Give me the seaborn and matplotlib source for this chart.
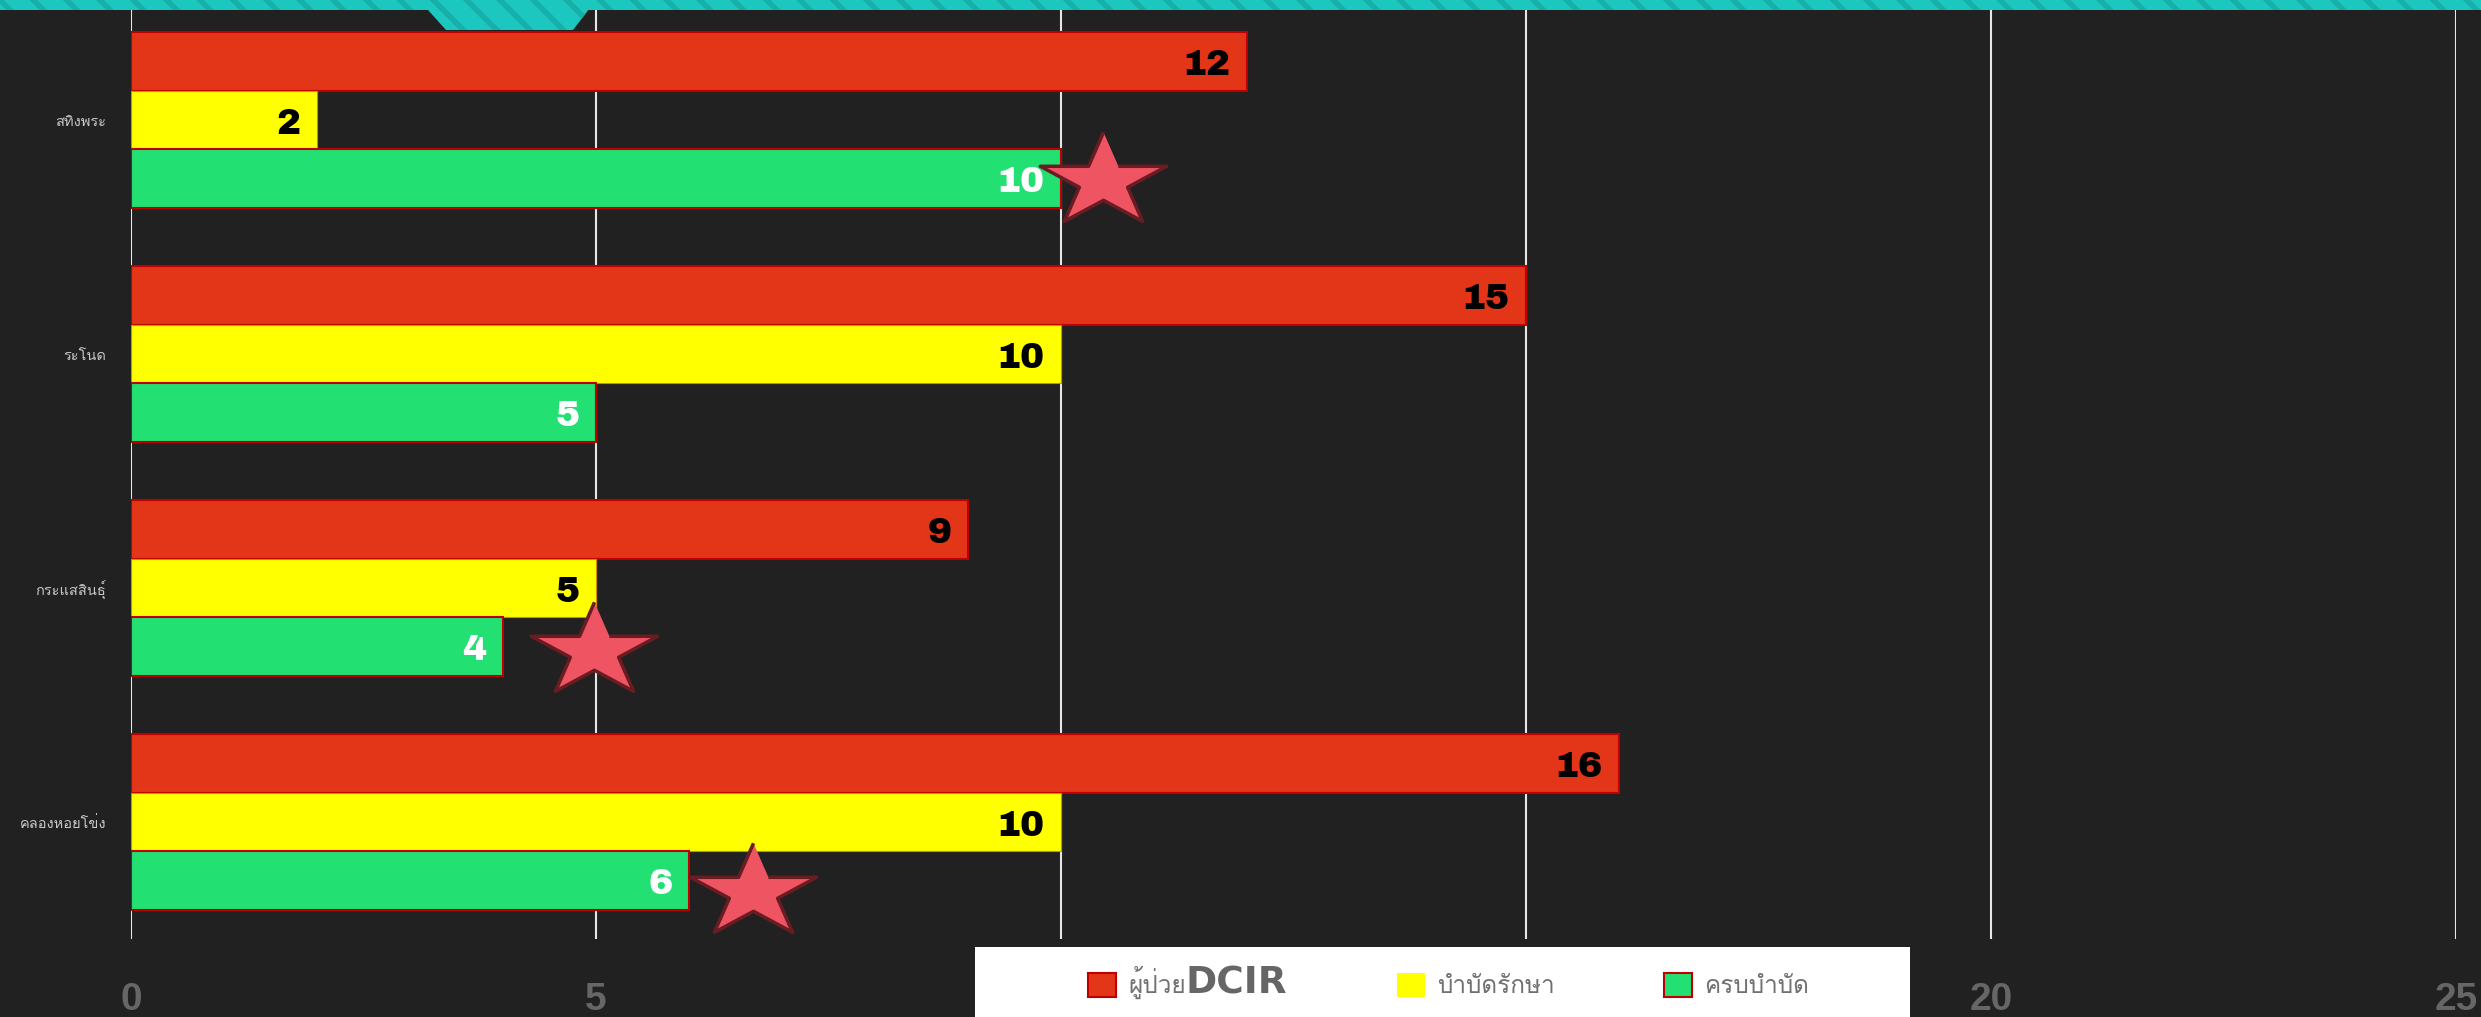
import numpy as np
import pandas as pd
import matplotlib
matplotlib.use('Agg')
import matplotlib.pyplot as plt
import seaborn as sns
from matplotlib import font_manager
from matplotlib.patches import Patch, Rectangle, Polygon
from matplotlib.offsetbox import TextArea, HPacker

# ข้อมูลจากแผนภูมิ
districts = ['สทิงพระ', 'ระโนด', 'กระแสสินธุ์', 'คลองหอยโข่ง']
groups = ['ผู้ป่วยDCIR', 'บำบัดรักษา', 'ครบบำบัด']
patients = [12, 15, 9, 16]
treating = [2, 10, 5, 10]
completed = [10, 5, 4, 6]
x_ticks = [0, 5, 10, 15, 20, 25]
star_x = [10.45, 4.98, 6.69]
star_y = [0.26, 2.27, 3.30]

colors = ['#E33517', '#FFFF00', '#22E072']
edge_colors = ['#C00000', '#C89000', '#C00000']
label_colors = ['black', 'black', 'white']
bg = '#212121'

sns.set_theme(style='dark')
plt.rcParams['font.family'] = ['Loma', 'DejaVu Sans']
plt.rcParams['hatch.linewidth'] = 4.0

installed = {f.name for f in font_manager.fontManager.ttflist}
num_font = 'Archivo Black' if 'Archivo Black' in installed else 'Liberation Sans'

df = pd.DataFrame({
    'district': districts * 3,
    'group': np.repeat(groups, len(districts)),
    'value': patients + treating + completed,
})

W, H = 2481, 1017
fig = plt.figure(figsize=(W / 100, H / 100), dpi=100, facecolor=bg)
ax = fig.add_axes([131 / W, 1 - 939 / H, (2456 - 131) / W, (939 - 3) / H])
ax.set_facecolor(bg)

sns.barplot(data=df, x='value', y='district', hue='group', order=districts,
            hue_order=groups, palette=colors, saturation=1, width=0.75, gap=0,
            orient='h', errorbar=None, legend=False, ax=ax,
            edgecolor='#C00000', linewidth=1.5)

for i, cont in enumerate(ax.containers):
    for bar in cont:
        bar.set_edgecolor(edge_colors[i])
        if i == 1:
            bar.set_linewidth(0.8)
    texts = ax.bar_label(cont, labels=[str(int(v)) for v in cont.datavalues],
                         padding=-12, color=label_colors[i], fontsize=26,
                         fontweight='bold', family=num_font)
    for t in texts:
        t.set_ha('right')
        t.set_va('center_baseline')

# ดาว
t = np.linspace(np.pi / 2, np.pi / 2 + 2 * np.pi, 11)[:-1]
r = np.where(np.arange(10) % 2 == 0, 1.0, 0.382)
star = np.column_stack([1.35 * r * np.cos(t), r * np.sin(t)])
ax.plot(star_x, star_y, ls='none', marker=star, ms=91, mfc='#EE5461',
        mec='#6A1C23', mew=2.5, clip_on=False, zorder=5)

ax.set_xlim(0, 25)
ax.set_ylim(3.5, -0.5)
ax.set_xticks(x_ticks)
ax.set_xlabel('')
ax.set_ylabel('')
ax.grid(axis='x', color='#e6e6e6', lw=1.5)
ax.grid(axis='y', visible=False)
ax.set_axisbelow(True)
for s in ax.spines.values():
    s.set_visible(False)
ax.tick_params(axis='x', length=0, pad=31, labelsize=28, labelcolor='#666666')
ax.tick_params(axis='y', length=0, pad=18, labelsize=10.5, labelcolor='#c8c8c8')
for lab, v in zip(ax.get_xticklabels(), x_ticks):
    lab.set_fontweight('bold')
    lab.set_family('Liberation Sans')
    # 10 และ 15 ถูกกล่องคำอธิบายบังอยู่ในภาพต้นฉบับ
    if v in (10, 15):
        lab.set_visible(False)

# แถบด้านบน
fig.patches.append(Rectangle((0, 1 - 10 / H), 1, 10 / H, transform=fig.transFigure,
                             facecolor='#1CC7BF', edgecolor='#17B0A9', hatch='\\',
                             lw=0, zorder=10))
tab = [(419 / W, 1), (596 / W, 1), (573 / W, 1 - 30 / H), (446 / W, 1 - 30 / H)]
fig.patches.append(Polygon(tab, closed=True, transform=fig.transFigure,
                           facecolor='#1CC7BF', edgecolor='#17B0A9', hatch='\\',
                           lw=0, zorder=10))

# กล่องคำอธิบาย
fig.patches.append(Rectangle((975 / W, 0), (1910 - 975) / W, (H - 947) / H,
                             transform=fig.transFigure, facecolor='white',
                             lw=0, zorder=10))
handles = [Patch(facecolor=colors[0], edgecolor='#C00000', lw=1.5),
           Patch(facecolor=colors[1], edgecolor=colors[1], lw=0),
           Patch(facecolor=colors[2], edgecolor='#C00000', lw=1.5)]
leg_labels = ['ผู้ป่วย', groups[1], groups[2]]
leg = fig.legend(handles, leg_labels, loc='center left',
                 bbox_to_anchor=(1088 / W, 34 / H), ncol=3, frameon=False,
                 prop=dict(family='Loma', size=17.5), labelcolor='#707070',
                 handlelength=1.15, handleheight=1.15, handletextpad=0.5,
                 columnspacing=4.5, borderpad=0, borderaxespad=0)
leg.set_zorder(11)
item = leg._legend_handle_box.get_children()[0].get_children()[0]
txt = item.get_children()[1]
dcir = TextArea('DCIR', textprops=dict(family='DejaVu Sans', weight='bold',
                                       size=27, color='#666666'))
hp = HPacker(pad=0, sep=0, align='baseline', children=[txt, dcir])
dcir.set_figure(fig)
hp.set_figure(fig)
item._children[1] = hp

fig.savefig('out.png', dpi=100, facecolor=bg)
